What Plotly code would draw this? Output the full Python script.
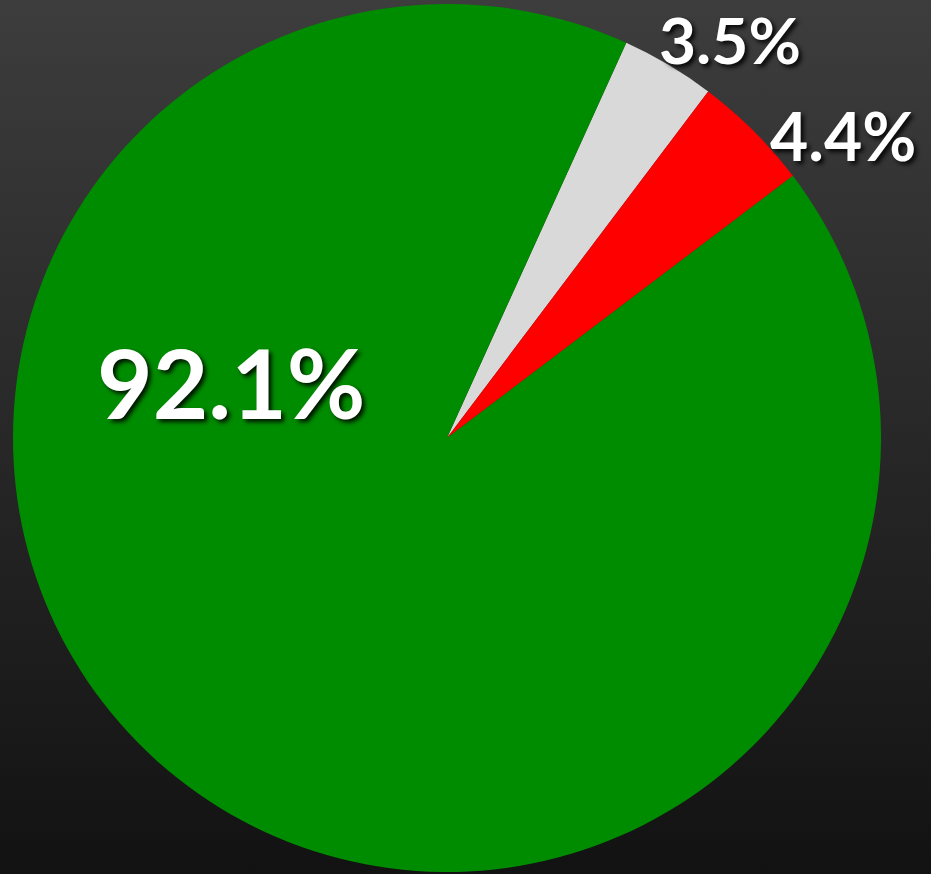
import base64
import plotly.graph_objects as go

# slice data, clockwise from the gray wedge
labels = ["Other", "Negative", "Positive"]
values = [3.5, 4.4, 92.1]
colors = ["#d9d9d9", "#ff0000", "#008c00"]

# where each percentage label sits (paper coords) and its size
label_pos = {"Other": (0.784, 0.955, 64), "Negative": (0.905, 0.845, 66), "Positive": (0.249, 0.563, 96)}

W, H = 931, 874

# dark vertical gradient background as an svg image
svg = (
    f'<svg xmlns="http://www.w3.org/2000/svg" width="{W}" height="{H}">'
    '<defs><linearGradient id="g" x1="0" y1="0" x2="0" y2="1">'
    '<stop offset="0" stop-color="#3d3d3d"/><stop offset="1" stop-color="#121212"/>'
    '</linearGradient></defs>'
    f'<rect width="{W}" height="{H}" fill="url(#g)"/></svg>'
)
bg = "data:image/svg+xml;base64," + base64.b64encode(svg.encode()).decode()

fig = go.Figure(go.Pie(
    labels=labels,
    values=values,
    sort=False,
    direction="clockwise",
    rotation=24.4,
    marker=dict(colors=colors, line=dict(width=0)),
    textinfo="none",
    hoverinfo="label+percent",
    domain=dict(x=[13 / W, 881 / W], y=[2 / H, 870 / H]),
    showlegend=False,
))

total = sum(values)
for lab, val in zip(labels, values):
    x, y, size = label_pos[lab]
    fig.add_annotation(
        x=x, y=y, xref="paper", yref="paper",
        text=f"{val / total * 100:.1f}%",
        showarrow=False, xanchor="center", yanchor="middle",
        font=dict(family="Lato", size=size, color="white", weight="bold",
                  shadow="3px 3px 4px rgba(0,0,0,0.85)"),
    )

fig.update_layout(
    width=W, height=H,
    margin=dict(l=0, r=0, t=0, b=0),
    paper_bgcolor="#1e1e1e",
    plot_bgcolor="rgba(0,0,0,0)",
    images=[dict(source=bg, xref="paper", yref="paper", x=0, y=1,
                 sizex=1, sizey=1, xanchor="left", yanchor="top",
                 sizing="stretch", layer="below")],
)

fig.write_html("out.html", config={"displayModeBar": False},
               post_script="document.body.style.margin='0';document.body.style.overflow='hidden';")
